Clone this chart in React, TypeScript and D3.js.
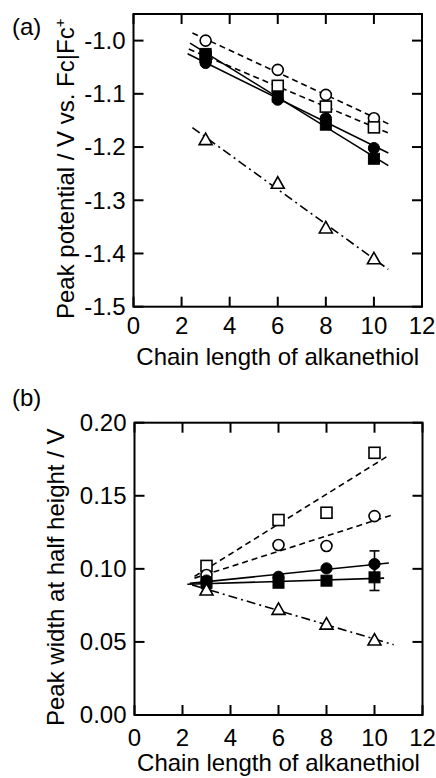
import React from "react";
import * as d3 from "d3";

// ---------- DATA ----------
const chainLengths = [3, 6, 8, 10];
const xTicks = [0, 2, 4, 6, 8, 10, 12];
const yTicksA = [-1.5, -1.4, -1.3, -1.2, -1.1, -1.0];
const yTicksB = [0.0, 0.05, 0.1, 0.15, 0.2];

// Panel (a): peak potential / V
const aOpenCircle = [-1.0, -1.055, -1.102, -1.146];
const aOpenSquare = [-1.03, -1.085, -1.124, -1.163];
const aFilledCircle = [-1.042, -1.111, -1.146, -1.202];
const aFilledSquare = [-1.025, -1.105, -1.158, -1.222];
const aTriangle = [-1.186, -1.268, -1.352, -1.41];

// Panel (b): peak width at half height / V
const bOpenSquare = [0.102, 0.1334, 0.1384, 0.1794];
const bOpenCircle = [0.0958, 0.1163, 0.1156, 0.1361];
const bFilledCircle = [0.092, 0.0946, 0.1003, 0.1033];
const bFilledSquare = [0.0905, 0.0905, 0.0919, 0.0942];
const bTriangle = [0.0855, 0.0723, 0.0622, 0.0513];
const bFilledCircleErr = [0.004, 0.0, 0.0, 0.009];
const bFilledSquareErr = [0.004, 0.0, 0.0, 0.009];

type Marker = "openCircle" | "openSquare" | "filledCircle" | "filledSquare" | "triangle";
type LineStyle = "dash" | "solid" | "dashdot";

interface Series {
  values: number[];
  marker: Marker;
  line: LineStyle;
  fitRange: [number, number];
  err?: number[];
}

const seriesA: Series[] = [
  { values: aOpenCircle, marker: "openCircle", line: "dash", fitRange: [2.45, 10.75] },
  { values: aOpenSquare, marker: "openSquare", line: "dash", fitRange: [2.3, 10.6] },
  { values: aFilledCircle, marker: "filledCircle", line: "solid", fitRange: [2.25, 10.6] },
  { values: aFilledSquare, marker: "filledSquare", line: "solid", fitRange: [2.35, 10.6] },
  { values: aTriangle, marker: "triangle", line: "dashdot", fitRange: [2.45, 10.6] },
];

const seriesB: Series[] = [
  { values: bOpenSquare, marker: "openSquare", line: "dash", fitRange: [2.5, 10.6] },
  { values: bOpenCircle, marker: "openCircle", line: "dash", fitRange: [2.5, 10.8] },
  { values: bFilledCircle, marker: "filledCircle", line: "solid", fitRange: [2.3, 10.6], err: bFilledCircleErr },
  { values: bFilledSquare, marker: "filledSquare", line: "solid", fitRange: [2.2, 10.4], err: bFilledSquareErr },
  { values: bTriangle, marker: "triangle", line: "dashdot", fitRange: [2.4, 10.8] },
];

const FONT = "'Liberation Sans', Arial, Helvetica, sans-serif";
const FS = 24;

function fit(xs: number[], ys: number[]) {
  const mx = d3.mean(xs)!;
  const my = d3.mean(ys)!;
  let sxy = 0, sxx = 0;
  xs.forEach((x, i) => {
    sxy += (x - mx) * (ys[i] - my);
    sxx += (x - mx) * (x - mx);
  });
  const slope = sxy / sxx;
  return (x: number) => my + slope * (x - mx);
}

const dashFor = (l: LineStyle) =>
  l === "dash" ? "6,4" : l === "dashdot" ? "9,4,2,4" : undefined;

function MarkerShape({ type, cx, cy }: { type: Marker; cx: number; cy: number }) {
  const sw = 1.6;
  switch (type) {
    case "openCircle":
      return <circle cx={cx} cy={cy} r={5.5} fill="#fff" stroke="#000" strokeWidth={sw} />;
    case "filledCircle":
      return <circle cx={cx} cy={cy} r={5.6} fill="#000" stroke="#000" strokeWidth={1} />;
    case "openSquare":
      return <rect x={cx - 5.5} y={cy - 5.5} width={11} height={11} fill="#fff" stroke="#000" strokeWidth={sw} />;
    case "filledSquare":
      return <rect x={cx - 5.5} y={cy - 5.5} width={11} height={11} fill="#000" stroke="#000" strokeWidth={1} />;
    case "triangle": {
      const p = d3.path();
      p.moveTo(cx, cy - 6.5);
      p.lineTo(cx + 6.5, cy + 5);
      p.lineTo(cx - 6.5, cy + 5);
      p.closePath();
      return <path d={p.toString()} fill="#fff" stroke="#000" strokeWidth={sw} />;
    }
  }
}

interface PanelProps {
  left: number;
  right: number;
  top: number;
  bottom: number;
  yDomain: [number, number];
  yTicks: number[];
  yFormat: (v: number) => string;
  series: Series[];
  xTickBaseline: number;
  xLabelBaseline: number;
  yLabelX: number;
  yLabelStartY: number;
  yLabel: React.ReactNode;
  tag: string;
  tagBaseline: number;
}

function Panel(p: PanelProps) {
  const x = d3.scaleLinear().domain([0, 12]).range([p.left, p.right]);
  const y = d3.scaleLinear().domain(p.yDomain).range([p.bottom, p.top]);
  const tl = 10;

  return (
    <g>
      {/* fit lines */}
      {p.series.map((s, i) => {
        const f = fit(chainLengths, s.values);
        const pts: [number, number][] = s.fitRange.map((xx) => [x(xx), y(f(xx))]);
        const gen = d3.line();
        return (
          <path
            key={"l" + i}
            d={gen(pts) || ""}
            fill="none"
            stroke="#000"
            strokeWidth={1.6}
            strokeDasharray={dashFor(s.line)}
          />
        );
      })}
      {/* error bars */}
      {p.series.map((s, i) =>
        s.err
          ? s.err.map((e, j) =>
              e > 0 ? (
                <g key={"e" + i + "-" + j} stroke="#000" strokeWidth={1.6}>
                  <line x1={x(chainLengths[j])} x2={x(chainLengths[j])} y1={y(s.values[j] - e)} y2={y(s.values[j] + e)} />
                  <line x1={x(chainLengths[j]) - 5} x2={x(chainLengths[j]) + 5} y1={y(s.values[j] - e)} y2={y(s.values[j] - e)} />
                  <line x1={x(chainLengths[j]) - 5} x2={x(chainLengths[j]) + 5} y1={y(s.values[j] + e)} y2={y(s.values[j] + e)} />
                </g>
              ) : null
            )
          : null
      )}
      {/* markers */}
      {p.series.map((s, i) =>
        s.values.map((v, j) => (
          <MarkerShape key={"m" + i + "-" + j} type={s.marker} cx={x(chainLengths[j])} cy={y(v)} />
        ))
      )}
      {/* frame */}
      <rect
        x={p.left}
        y={p.top}
        width={p.right - p.left}
        height={p.bottom - p.top}
        fill="none"
        stroke="#000"
        strokeWidth={2}
      />
      {/* ticks */}
      {xTicks.map((t) => (
        <g key={"xt" + t} stroke="#000" strokeWidth={2}>
          <line x1={x(t)} x2={x(t)} y1={p.bottom} y2={p.bottom - tl} />
          <line x1={x(t)} x2={x(t)} y1={p.top} y2={p.top + tl} />
        </g>
      ))}
      {p.yTicks.map((t) => (
        <g key={"yt" + t} stroke="#000" strokeWidth={2}>
          <line x1={p.left} x2={p.left + tl} y1={y(t)} y2={y(t)} />
          <line x1={p.right} x2={p.right - tl} y1={y(t)} y2={y(t)} />
        </g>
      ))}
      {/* tick labels */}
      {xTicks.map((t) => (
        <text
          key={"xl" + t}
          x={x(t)}
          y={p.xTickBaseline}
          textAnchor="middle"
          fontFamily={FONT}
          fontSize={FS}
          fill="#000"
        >
          {t}
        </text>
      ))}
      {p.yTicks.map((t) => (
        <text
          key={"yl" + t}
          x={p.left - 8}
          y={y(t)}
          dy="0.35em"
          textAnchor="end"
          fontFamily={FONT}
          fontSize={FS}
          fill="#000"
        >
          {p.yFormat(t)}
        </text>
      ))}
      {/* axis labels */}
      <text
        x={(p.left + p.right) / 2}
        y={p.xLabelBaseline}
        textAnchor="middle"
        fontFamily={FONT}
        fontSize={FS}
        fill="#000"
      >
        Chain length of alkanethiol
      </text>
      <text
        transform={`translate(${p.yLabelX},${p.yLabelStartY}) rotate(-90)`}
        textAnchor="start"
        fontFamily={FONT}
        fontSize={FS}
        fill="#000"
      >
        {p.yLabel}
      </text>
      <text x={12} y={p.tagBaseline} fontFamily={FONT} fontSize={FS} fill="#000">
        {p.tag}
      </text>
    </g>
  );
}

export default function App() {
  return (
    <svg
      width={436}
      height={778}
      style={{ position: "absolute", left: 0, top: 0, background: "#fff" }}
    >
      <rect x={0} y={0} width={436} height={778} fill="#fff" />
      <Panel
        left={133.5}
        right={422}
        top={14}
        bottom={306.7}
        yDomain={[-1.5, -0.95]}
        yTicks={yTicksA}
        yFormat={(v) => d3.format(".1f")(v).replace("−", "-")}
        series={seriesA}
        xTickBaseline={334}
        xLabelBaseline={365}
        yLabelX={74}
        yLabelStartY={319}
        yLabel={
          <>
            Peak potential / V vs. Fc|Fc
            <tspan dy={-9} fontSize={15}>+</tspan>
          </>
        }
        tag="(a)"
        tagBaseline={35}
      />
      <Panel
        left={134.5}
        right={422.5}
        top={422.7}
        bottom={715}
        yDomain={[0, 0.2]}
        yTicks={yTicksB}
        yFormat={(v) => d3.format(".2f")(v)}
        series={seriesB}
        xTickBaseline={746}
        xLabelBaseline={771}
        yLabelX={64}
        yLabelStartY={726}
        yLabel={<>Peak width at half height / V</>}
        tag="(b)"
        tagBaseline={406}
      />
    </svg>
  );
}
